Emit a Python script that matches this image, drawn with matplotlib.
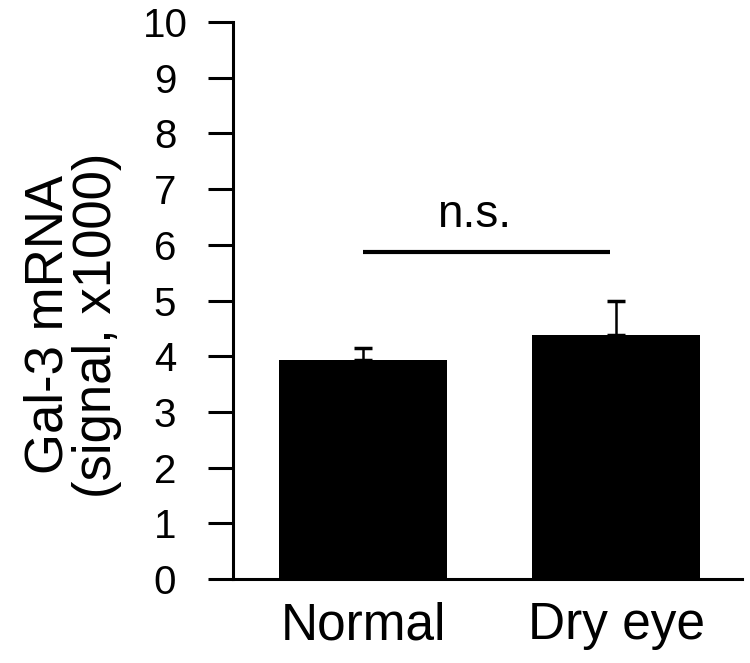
import numpy as np
from matplotlib import pyplot as plt

plt.rcParams['font.family'] = ['Liberation Sans', 'DejaVu Sans']

groups = ['Normal', 'Dry eye']
means = [3.93, 4.38]
errors = [0.22, 0.61]
sig_y = 5.87
sig_text = 'n.s.'

fig = plt.figure(figsize=(7.5, 6.63), dpi=100)
ax = fig.add_axes([0.3107, 0.1267, 0.6786, 0.8401])

x = np.arange(len(groups))
ax.bar(x, means, width=0.664, color='black', zorder=2)
ax.errorbar(x, means, yerr=[np.zeros(len(errors)), errors], fmt='none',
            ecolor='black', elinewidth=1.8, capsize=6.5, capthick=2.5, zorder=1)

# significance line
ax.plot([x[0], x[1] - 0.024], [sig_y, sig_y], color='black', lw=3, solid_capstyle='butt')
ax.text(0.44, 6.32, sig_text, ha='center', va='baseline', fontsize=33)

ax.set_xlim(-0.514, 1.498)
ax.set_ylim(0, 10)
ax.set_yticks(range(0, 11))
ax.set_xticks(x)
ax.set_xticklabels(groups, fontsize=37)
ax.tick_params(axis='y', labelsize=29, length=18, width=2.2, direction='out', pad=31)
for lab in ax.get_yticklabels():
    lab.set_horizontalalignment('center')
ax.tick_params(axis='x', length=0, pad=16)

for s in ['top', 'right']:
    ax.spines[s].set_visible(False)
for s in ['left', 'bottom']:
    ax.spines[s].set_linewidth(2.2)

fig.text(73 / 750, 1 - 325 / 663, 'Gal-3 mRNA\n(signal, x1000)', rotation=90,
         ha='center', va='center', fontsize=38, linespacing=0.97, multialignment='center')

fig.savefig('out.png', dpi=100)
